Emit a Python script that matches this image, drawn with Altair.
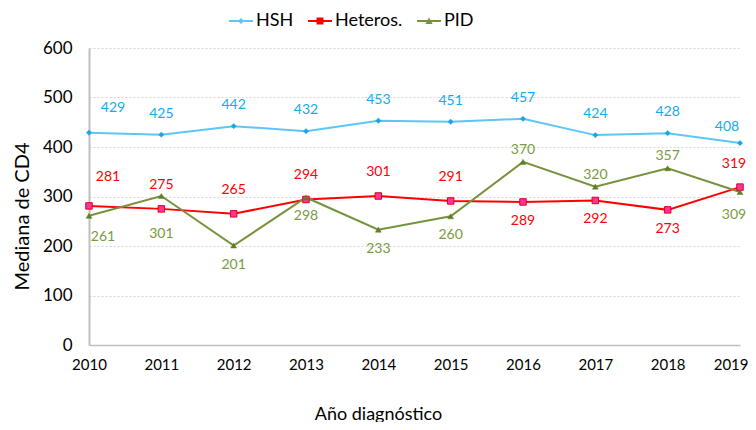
import altair as alt
import pandas as pd

# ---------------- data ----------------
years = ["2010", "2011", "2012", "2013", "2014", "2015", "2016", "2017", "2018", "2019"]
series_names = ["HSH", "Heteros.", "PID"]
hsh = [429, 425, 442, 432, 453, 451, 457, 424, 428, 408]
heteros = [281, 275, 265, 294, 301, 291, 289, 292, 273, 319]
pid = [261, 301, 201, 298, 233, 260, 370, 320, 357, 309]
y_ticks = [0, 100, 200, 300, 400, 500, 600]

rows = []
for name, vals in zip(series_names, [hsh, heteros, pid]):
    for yr, v in zip(years, vals):
        rows.append({"year": yr, "series": name, "value": v})
df = pd.DataFrame(rows)

# ---------------- style ----------------
FONT = "Lato, Open Sans, Liberation Sans, sans-serif"
line_colors = {"HSH": "#5CC6F5", "Heteros.": "#FF0000", "PID": "#76923C"}
label_colors = {"HSH": "#16AAEB", "Heteros.": "#FF0000", "PID": "#7A9A3E"}
marker_style = {
    "HSH": dict(shape="diamond", fill="#1AA6E6", stroke="#1AA6E6", size=28, strokeWidth=0.5),
    "Heteros.": dict(shape="square", fill="#FF3399", stroke="#E0001E", size=42, strokeWidth=1),
    "PID": dict(shape="triangle-up", fill="#5F7F22", stroke="#5F7F22", size=34, strokeWidth=0.5),
}
# legend symbols: a short line with the series marker (unit coords, scaled by sqrt(size)/2)
legend_paths = [
    "M-1.2,-0.1L1.2,-0.1L1.2,0.1L-1.2,0.1Z M0,-0.3L0.3,0L0,0.3L-0.3,0Z",
    "M-1.2,-0.1L1.2,-0.1L1.2,0.1L-1.2,0.1Z M-0.34,-0.34L0.34,-0.34L0.34,0.34L-0.34,0.34Z",
    "M-1.2,-0.1L1.2,-0.1L1.2,0.1L-1.2,0.1Z M0,-0.36L0.36,0.29L-0.36,0.29Z",
]

X = alt.X(
    "year:O",
    sort=years,
    scale=alt.Scale(type="point", padding=0),
    title="Año diagnóstico",
    axis=alt.Axis(
        labelAngle=0, ticks=False, grid=False, domainColor="#BFBFBF", domainWidth=1.5,
        labelPadding=12, labelFont=FONT, labelFontSize=15, labelColor="#000000",
        labelAlign={"condition": {"test": "datum.value == '2019'", "value": "right"}, "value": "center"},
        labelOffset={"condition": {"test": "datum.value == '2019'", "value": 8}, "value": 0},
        titleFont=FONT, titleFontSize=18, titleFontWeight="normal", titleColor="#000000",
        titleX=289, titleY=74, titleBaseline="alphabetic",
    ),
)
Y = alt.Y(
    "value:Q",
    scale=alt.Scale(domain=[0, 600], nice=False),
    title="Mediana de CD4",
    axis=alt.Axis(
        values=y_ticks, ticks=False, grid=True, gridColor="#D6D6D6", gridDash=[2, 2],
        gridWidth=1, domainColor="#BFBFBF", domainWidth=2,
        labelPadding=17, labelFont=FONT, labelFontSize=17, labelColor="#000000",
        titleFont=FONT, titleFontSize=20, titleFontWeight="normal", titleColor="#000000",
        titleX=-61, titleY=168, titleAngle=270, titleBaseline="alphabetic",
    ),
)

base = alt.Chart(df)

layers = []
for s in series_names:
    layers.append(
        base.transform_filter(alt.datum.series == s)
        .mark_line(strokeWidth=2, color=line_colors[s])
        .encode(x=X, y=Y)
    )
for s in series_names:
    layers.append(
        base.transform_filter(alt.datum.series == s)
        .mark_point(filled=True, opacity=1, **marker_style[s])
        .encode(x=X, y=Y)
    )

# label placement (style): offset group of each label, keyed by series and year
def place(series, year):
    if year == "2010":
        return "first"
    if year == "2019":
        return "last"
    if series == "PID" and year == "2011":
        return "far"
    if year in ("2016", "2017", "2018") and series != "HSH":
        return "swap"
    return "mid"

df["place"] = [place(s, y) for s, y in zip(df["series"], df["year"])]
offsets = {
    "HSH": {"first": (24, -25), "mid": (0, -21), "last": (-13, -16)},
    "Heteros.": {"first": (19, -29), "mid": (0, -24), "swap": (0, 19), "last": (-6, -23)},
    "PID": {"first": (14, 21), "mid": (0, 19), "far": (0, 38), "swap": (0, -12), "last": (-6, 23)},
}
base2 = alt.Chart(df)
for s in series_names:
    for p, (dx, dy) in offsets[s].items():
        layers.append(
            base2.transform_filter((alt.datum.series == s) & (alt.datum.place == p))
            .mark_text(dx=dx, dy=dy, font=FONT, fontSize=14, baseline="middle",
                       align="center", color=label_colors[s])
            .encode(x=X, y=Y, text="value:Q")
        )

legend_cfg = dict(
    title=None, orient="none", legendX=142, legendY=-37, direction="horizontal",
    symbolSize=400, labelFont=FONT, labelFontSize=18, labelColor="#000000",
    labelOffset=5, columnPadding=14, padding=0, symbolStrokeWidth=0,
)
legend_layer = (
    base.transform_filter("false")
    .mark_point(filled=True, opacity=1)
    .encode(
        x=X, y=Y,
        color=alt.Color(
            "series:N",
            scale=alt.Scale(domain=series_names, range=[line_colors[s] for s in series_names]),
            legend=alt.Legend(**legend_cfg),
        ),
        shape=alt.Shape(
            "series:N",
            scale=alt.Scale(domain=series_names, range=legend_paths),
            legend=alt.Legend(**legend_cfg),
        ),
    )
)
layers.append(legend_layer)

chart = (
    alt.layer(*layers)
    .properties(
        width=651, height=297,
        autosize=alt.AutoSizeParams(type="none"),
        padding={"left": 81, "top": 40, "right": 8, "bottom": 77},
        background="#FFFFFF",
    )
    .configure_view(strokeWidth=0)
)

chart.save("out.html", embed_options={"renderer": "svg", "actions": False})
